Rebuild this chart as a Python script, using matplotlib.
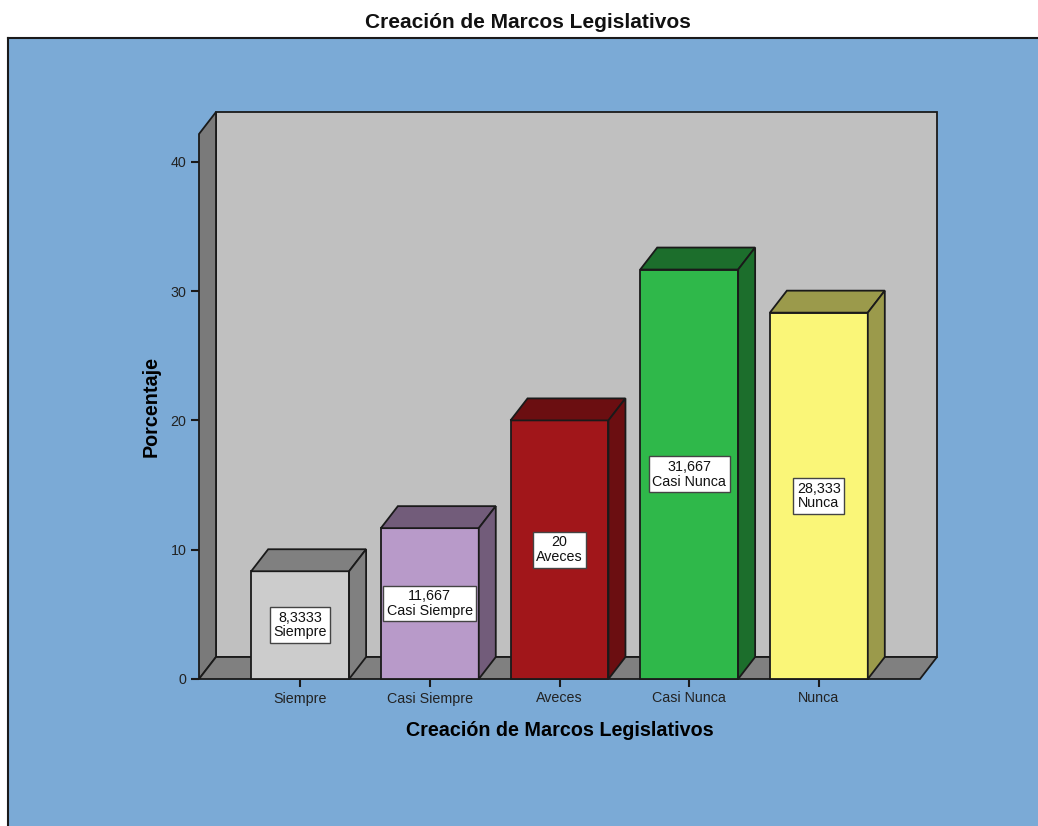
import matplotlib.pyplot as plt
from matplotlib.patches import Polygon

categorias = ['Siempre', 'Casi Siempre', 'Aveces', 'Casi Nunca', 'Nunca']
porcentajes = [8.3333, 11.667, 20, 31.667, 28.333]
etiquetas = ['8,3333', '11,667', '20', '31,667', '28,333']
frente = ['#CCCCCC', '#B89AC9', '#A1161A', '#2FB84A', '#FAF678']
lado = ['#808080', '#725C7A', '#6B0E11', '#1C6E2C', '#9B9A4B']
yticks = [0, 10, 20, 30, 40]

plt.rcParams['font.family'] = ['Liberation Sans', 'DejaVu Sans']

fig = plt.figure(figsize=(10.38, 8.26), dpi=100)
fig.patch.set_facecolor('white')

# fondo azul del grafico
bg = fig.add_axes([8 / 1038, 0, 1.0, (826 - 38) / 826])
bg.set_facecolor('#7BAAD6')
bg.set_xticks([])
bg.set_yticks([])
for s in bg.spines.values():
    s.set_color('#1a1a1a')
    s.set_linewidth(1.5)
bg.spines['bottom'].set_visible(False)

ax = fig.add_axes([199 / 1038, (826 - 679) / 826, 721 / 1038, 545 / 826])
ax.set_facecolor('none')
x0, x1 = -0.78, 4.78
ytop = 42.15
ax.set_xlim(x0, x1)
ax.set_ylim(0, ytop)
for s in ax.spines.values():
    s.set_visible(False)

dx, dy = 17 / 129.7, 22 / 12.93
ec = '#1a1a1a'
lw = 1.3

# paredes
ax.add_patch(Polygon([(x0 + dx, dy), (x1 + dx, dy), (x1 + dx, ytop + dy), (x0 + dx, ytop + dy)],
                     facecolor='#C0C0C0', edgecolor=ec, lw=lw, clip_on=False, zorder=1))
ax.add_patch(Polygon([(x0, 0), (x0 + dx, dy), (x0 + dx, ytop + dy), (x0, ytop)],
                     facecolor='#7A7A7A', edgecolor=ec, lw=lw, clip_on=False, zorder=2))
ax.add_patch(Polygon([(x0, 0), (x1, 0), (x1 + dx, dy), (x0 + dx, dy)],
                     facecolor='#808080', edgecolor=ec, lw=lw, clip_on=False, zorder=2))

w = 0.755
for i, v in enumerate(porcentajes):
    a, b = i - w / 2, i + w / 2
    ax.add_patch(Polygon([(a, 0), (b, 0), (b, v), (a, v)],
                         facecolor=frente[i], edgecolor=ec, lw=lw, clip_on=False, zorder=3))
    ax.add_patch(Polygon([(a, v), (b, v), (b + dx, v + dy), (a + dx, v + dy)],
                         facecolor=lado[i], edgecolor=ec, lw=lw, clip_on=False, zorder=3))
    ax.add_patch(Polygon([(b, 0), (b + dx, dy), (b + dx, v + dy), (b, v)],
                         facecolor=lado[i], edgecolor=ec, lw=lw, clip_on=False, zorder=3))
    ax.text(i, v / 2, etiquetas[i] + '\n' + categorias[i], ha='center', va='center',
            fontsize=10.3, color='#111111', linespacing=1.05, zorder=5,
            bbox=dict(boxstyle='square,pad=0.25', facecolor='white', edgecolor='#444444', lw=1))

ax.set_xticks(range(len(categorias)))
ax.set_xticklabels(categorias)
ax.set_yticks(yticks)
ax.tick_params(axis='both', length=6, width=1.5, color=ec, labelsize=10.3,
               labelcolor='#222222', pad=3)

ax.set_xlabel('Creación de Marcos Legislativos', fontsize=14.2, fontweight='bold', labelpad=11)
ax.set_ylabel('Porcentaje', fontsize=14.2, fontweight='bold', labelpad=7)

fig.text(528 / 1038, 1 - 22 / 826, 'Creación de Marcos Legislativos', ha='center', va='center',
         fontsize=15, fontweight='bold', color='#111111')

fig.savefig('out.png', dpi=100)
